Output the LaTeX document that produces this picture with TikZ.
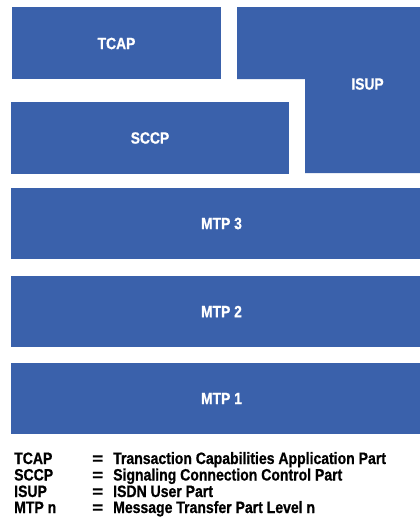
\documentclass[tikz,border=0pt]{standalone}
\usepackage{fontspec}
\setmainfont{Liberation Sans}
\newfontfamily\labfont{Liberation Sans}[FakeStretch=0.85,BoldFeatures={FakeBold=0.7}]
\definecolor{layerblue}{RGB}{58,97,171}
\begin{document}
\begin{tikzpicture}[x=1pt,y=-1pt,
  layer/.style={fill=layerblue,draw=none},
  layertext/.style={text=white,font=\labfont\fontsize{16.3}{18}\selectfont\bfseries,inner sep=0pt},
  legendtext/.style={font=\labfont\fontsize{16.5}{18}\selectfont\bfseries,inner sep=0pt,anchor=base west}]
\useasboundingbox (0,0) rectangle (420,531);

% protocol layers
\path[layer] (12,7) rectangle (221,79);
\path[layer] (237,7) -- (420,7) -- (420,173) -- (305,173) -- (305,79) -- (237,79) -- cycle;
\path[layer] (11,102) rectangle (289,174);
\path[layer] (11,188) rectangle (420,259);
\path[layer] (11,276) rectangle (420,347);
\path[layer] (11,363) rectangle (420,434);

% layer names
\node[layertext] (tcap) at (116.5,43.5) {TCAP};
\node[layertext] (isup) at (367.5,84) {ISUP};
\node[layertext] (sccp) at (150,138) {SCCP};
\node[layertext] (mtp3) at (221.5,223.5) {MTP 3};
\node[layertext] (mtp2) at (221.5,311.5) {MTP 2};
\node[layertext] (mtp1) at (221.5,398.5) {MTP 1};

% abbreviations
\node[legendtext] (k1) at (14,464) {TCAP};
\node[legendtext] (e1) at (92,464) {\scalebox{1.35}[1]{=}};
\node[legendtext] (d1) at (113,464) {Transaction Capabilities Application Part};
\node[legendtext] (k2) at (14,480.5) {SCCP};
\node[legendtext] (e2) at (92,480.5) {\scalebox{1.35}[1]{=}};
\node[legendtext] (d2) at (113,480.5) {Signaling Connection Control Part};
\node[legendtext] (k3) at (14,497) {ISUP};
\node[legendtext] (e3) at (92,497) {\scalebox{1.35}[1]{=}};
\node[legendtext] (d3) at (113,497) {ISDN User Part};
\node[legendtext] (k4) at (14,513) {MTP n};
\node[legendtext] (e4) at (92,513) {\scalebox{1.35}[1]{=}};
\node[legendtext] (d4) at (113,513) {Message Transfer Part Level n};
\end{tikzpicture}
\end{document}
